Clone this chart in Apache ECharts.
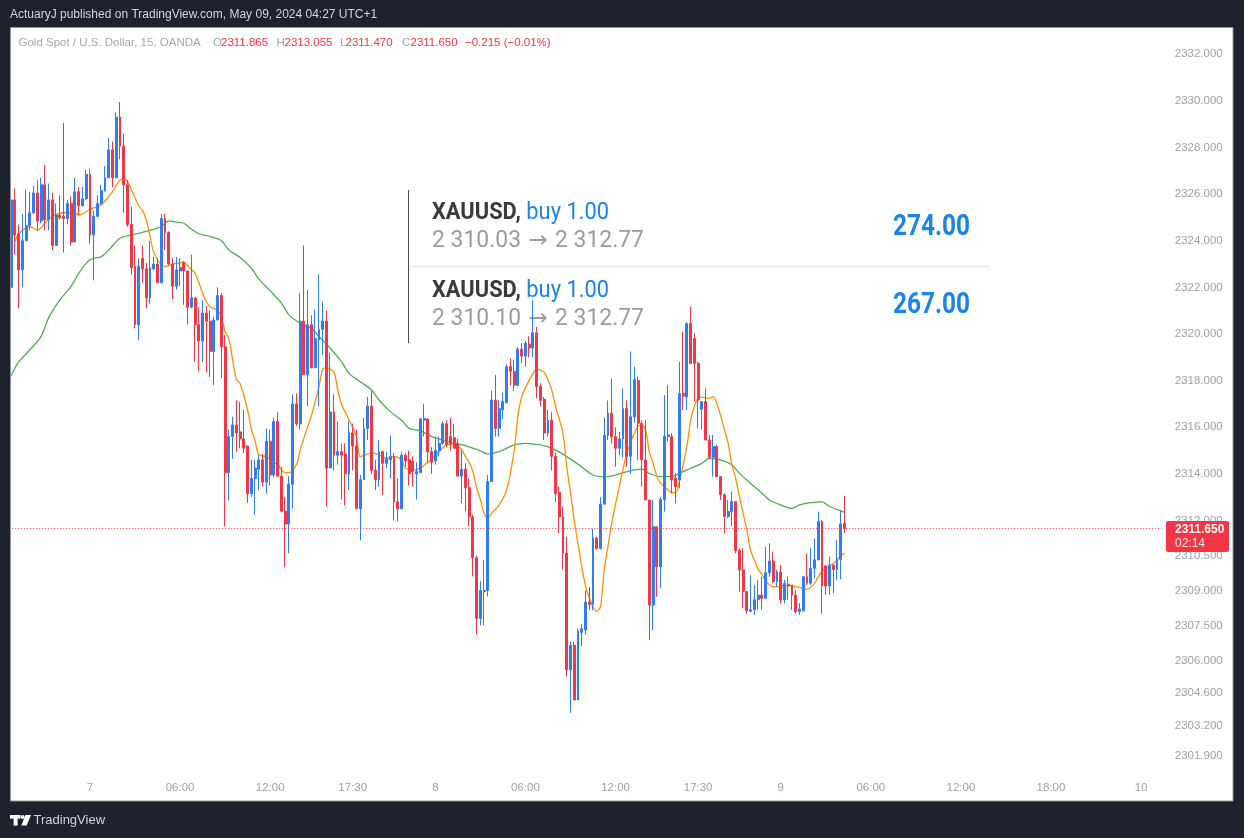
<!DOCTYPE html>
<html><head><meta charset="utf-8">
<script src="https://cdn.jsdelivr.net/npm/echarts@6/dist/echarts.min.js"></script>
<style>html,body{margin:0;padding:0;background:#1e222d;}#c{width:1244px;height:838px;}</style>
</head><body><div id="c"></div>
<script>
// ---- DATA ----
// candles: [open, close, low, high], 15-minute bars
const candles = [
[2322.0,2325.75,2320.7,2325.8],[2325.75,2324.25,2323.4,2326.25],[2324.3,2322.75,2321.1,2324.7],[2322.75,2324.0,2322.0,2325.15],
[2324.0,2324.65,2324.0,2326.2],[2324.65,2325.2,2324.45,2326.1],[2325.2,2326.05,2325.15,2326.35],[2326.05,2324.85,2324.45,2326.6],
[2324.85,2326.4,2324.75,2326.7],[2326.4,2324.9,2324.45,2327.25],[2324.9,2325.75,2324.45,2326.45],[2325.75,2323.8,2323.6,2326.05],
[2323.8,2325.1,2323.8,2325.6],[2325.1,2325.0,2324.9,2325.95],[2325.05,2324.95,2323.5,2329.05],[2324.95,2325.6,2324.7,2325.75],
[2325.6,2323.95,2323.8,2325.9],[2323.95,2326.1,2323.95,2326.7],[2326.1,2325.5,2325.1,2326.3],[2325.5,2325.8,2325.5,2326.3],
[2325.8,2326.85,2325.75,2327.05],[2326.85,2324.25,2323.85,2327.1],[2324.25,2325.05,2322.3,2325.3],[2325.05,2325.6,2325.0,2325.95],
[2325.6,2326.15,2325.55,2326.4],[2326.15,2326.7,2326.1,2327.2],[2326.7,2327.9,2326.7,2328.4],[2327.9,2326.7,2326.3,2328.25],
[2326.7,2329.3,2326.7,2329.5],[2329.3,2328.05,2327.5,2329.95],[2328.05,2326.4,2325.2,2328.6],[2326.4,2324.7,2324.6,2326.6],
[2324.7,2322.85,2322.55,2325.45],[2322.9,2320.4,2320.25,2323.8],[2320.4,2322.9,2319.75,2323.25],[2323.25,2322.8,2322.2,2323.8],
[2322.8,2321.55,2321.1,2323.05],[2321.55,2322.85,2321.3,2324.0],[2322.8,2323.0,2322.75,2323.3],[2323.0,2322.2,2322.2,2323.25],
[2322.2,2324.95,2322.2,2325.15],[2324.95,2324.35,2323.6,2325.15],[2324.35,2323.0,2322.95,2324.4],[2323.0,2322.05,2321.5,2323.25],
[2322.05,2322.75,2321.9,2323.3],[2322.7,2322.85,2322.05,2323.25],[2323.05,2322.7,2321.25,2323.1],[2322.7,2321.15,2320.4,2322.7],
[2321.15,2321.55,2321.1,2323.4],[2321.55,2320.4,2318.8,2321.55],[2320.4,2319.7,2318.4,2321.15],[2319.7,2320.9,2318.8,2321.45],
[2320.9,2320.55,2318.35,2321.2],[2320.55,2319.25,2318.15,2321.0],[2319.25,2320.6,2317.8,2320.75],[2320.6,2321.65,2320.6,2322.0],
[2321.65,2319.45,2318.1,2321.75],[2319.45,2314.05,2311.75,2319.95],[2314.05,2315.6,2312.85,2315.9],[2315.6,2316.1,2314.65,2316.45],
[2316.1,2315.75,2314.95,2317.15],[2315.8,2315.5,2315.1,2317.1],[2315.5,2315.1,2314.9,2316.75],[2315.2,2313.15,2312.75,2315.2],
[2313.15,2313.8,2313.0,2314.6],[2313.8,2314.25,2312.25,2314.6],[2314.2,2314.6,2313.3,2314.8],[2314.6,2313.65,2313.45,2314.85],
[2313.65,2315.4,2313.15,2315.95],[2315.4,2313.95,2313.5,2315.9],[2313.95,2316.25,2313.85,2316.4],[2316.25,2313.9,2313.9,2316.65],
[2313.9,2312.4,2312.35,2314.3],[2312.4,2311.85,2310.0,2313.0],[2311.85,2313.55,2310.6,2313.9],[2313.55,2317.0,2312.5,2317.4],
[2317.0,2316.15,2316.05,2317.45],[2316.15,2320.55,2315.9,2321.75],[2320.55,2318.25,2318.25,2323.8],[2318.25,2320.4,2316.9,2321.9],
[2320.4,2318.55,2318.55,2320.8],[2318.55,2319.8,2318.55,2321.05],[2319.75,2320.2,2316.9,2322.55],[2320.2,2320.55,2319.1,2321.4],
[2320.55,2314.25,2312.6,2321.0],[2314.25,2316.65,2314.25,2319.2],[2316.65,2314.8,2314.15,2317.4],[2314.8,2314.95,2314.4,2316.25],
[2314.95,2314.8,2312.9,2315.3],[2314.85,2314.0,2312.65,2315.3],[2314.0,2315.75,2313.3,2316.25],[2315.75,2315.2,2314.15,2316.15],
[2315.2,2312.5,2312.5,2315.9],[2312.5,2313.75,2311.15,2313.95],[2313.75,2315.95,2313.75,2316.4],[2315.95,2316.9,2315.45,2317.3],
[2316.9,2314.15,2314.0,2317.55],[2314.15,2313.75,2313.3,2314.6],[2313.75,2314.95,2313.45,2315.45],[2314.95,2314.45,2313.1,2315.0],
[2314.45,2314.65,2314.25,2314.95],[2314.6,2314.75,2313.8,2315.65],[2314.75,2312.8,2312.0,2314.9],[2312.8,2312.5,2311.95,2313.8],
[2312.5,2314.8,2312.5,2314.95],[2314.8,2314.55,2314.3,2314.9],[2314.6,2314.0,2313.5,2315.0],[2314.55,2314.1,2313.45,2314.75],
[2314.0,2314.1,2312.9,2314.5],[2314.05,2316.35,2314.05,2316.4],[2316.3,2316.38,2315.6,2317.0],[2316.35,2314.95,2314.45,2316.4],
[2314.95,2314.5,2314.0,2315.15],[2314.55,2315.0,2314.4,2315.6],[2315.0,2315.3,2314.75,2315.6],[2315.3,2316.15,2315.25,2316.25],
[2316.15,2315.25,2315.15,2316.3],[2315.6,2315.3,2315.0,2316.4],[2315.55,2315.1,2315.1,2316.15],[2315.3,2313.9,2313.9,2315.5],
[2313.9,2314.2,2312.75,2315.0],[2314.2,2313.4,2312.4,2314.45],[2313.4,2312.15,2311.75,2313.8],[2312.15,2310.4,2309.6,2312.25],
[2310.4,2307.8,2307.1,2310.5],[2307.8,2309.0,2307.5,2309.4],[2308.95,2309.0,2307.5,2310.3],[2309.0,2313.67,2308.74,2313.95],
[2313.67,2317.17,2313.67,2317.57],[2317.17,2315.95,2315.6,2318.24],[2315.95,2316.8,2315.6,2317.17],[2316.75,2317.1,2316.35,2317.5],
[2317.05,2318.6,2317.05,2318.7],[2318.6,2318.4,2317.8,2318.95],[2318.4,2317.8,2317.55,2318.9],[2317.8,2319.35,2317.75,2319.45],
[2319.35,2319.05,2318.75,2319.6],[2319.05,2319.6,2318.6,2319.7],[2319.55,2319.4,2319.0,2319.9],[2319.4,2320.05,2319.0,2321.45],
[2320.05,2317.75,2317.25,2320.3],[2317.75,2317.15,2316.9,2317.9],[2317.2,2315.75,2315.45,2317.3],[2315.75,2316.3,2315.6,2316.75],
[2316.3,2314.75,2314.15,2316.65],[2314.75,2313.15,2312.8,2314.9],[2313.2,2312.15,2311.45,2313.45],[2312.15,2310.6,2309.9,2312.6],
[2310.6,2305.6,2305.3,2311.3],[2305.6,2306.65,2303.75,2306.8],[2306.65,2304.3,2304.3,2306.8],[2304.3,2307.25,2304.3,2307.35],
[2307.2,2307.35,2306.6,2307.55],[2307.3,2308.5,2307.1,2309.0],[2308.5,2308.4,2308.15,2309.15],[2308.4,2311.25,2308.15,2311.65],
[2311.25,2310.8,2310.75,2311.3],[2310.8,2312.7,2310.75,2313.0],[2312.7,2315.65,2312.7,2316.4],[2315.65,2316.6,2315.45,2317.15],
[2316.6,2315.6,2315.3,2318.1],[2315.6,2315.1,2314.3,2316.0],[2315.1,2315.5,2314.8,2315.8],[2315.5,2316.8,2314.7,2317.65],
[2316.8,2314.75,2314.3,2317.15],[2314.75,2316.45,2314.0,2319.25],[2316.45,2318.05,2316.2,2318.6],[2318.0,2316.17,2314.6,2318.17],
[2316.17,2314.6,2313.45,2316.3],[2314.6,2312.88,2312.88,2316.3],[2312.88,2308.37,2306.87,2312.88],[2308.37,2311.73,2307.3,2312.88],
[2311.73,2310.02,2308.73,2311.73],[2310.02,2312.9,2309.09,2313.02],[2312.9,2315.62,2312.38,2317.38],[2315.6,2315.67,2315.38,2317.81],
[2315.6,2313.74,2313.17,2315.74],[2313.81,2313.45,2312.74,2314.02],[2313.74,2317.45,2313.38,2318.81],[2317.45,2317.34,2316.74,2320.1],
[2317.3,2320.45,2316.74,2320.5],[2320.45,2318.74,2318.74,2321.17],[2319.8,2318.74,2317.1,2320.03],[2318.74,2317.17,2315.95,2318.81],
[2316.77,2317.1,2315.9,2317.1],[2317.1,2315.45,2315.45,2317.67],[2315.45,2314.71,2314.67,2315.67],[2314.71,2315.17,2313.88,2315.67],
[2315.17,2313.88,2313.88,2315.24],[2313.88,2313.1,2312.88,2313.88],[2313.1,2312.17,2311.45,2313.17],[2312.17,2312.38,2312.1,2312.88],
[2312.38,2312.81,2311.74,2313.24],[2312.81,2310.71,2310.59,2312.81],[2310.71,2309.88,2308.95,2310.81],[2309.88,2308.95,2308.23,2310.81],
[2308.95,2308.13,2308.0,2308.95],[2308.1,2308.17,2308.1,2309.66],[2308.17,2308.6,2307.95,2309.23],[2308.6,2308.8,2308.17,2309.45],
[2308.8,2308.66,2308.17,2309.59],[2308.66,2309.76,2308.66,2310.88],[2309.76,2310.26,2309.59,2311.02],[2310.26,2309.38,2309.31,2310.66],
[2309.38,2309.78,2309.16,2309.88],[2309.78,2308.59,2308.45,2310.09],[2308.59,2309.3,2308.45,2309.45],[2309.26,2309.19,2308.59,2309.59],
[2309.23,2308.8,2308.16,2309.23],[2308.8,2308.09,2308.0,2309.02],[2308.1,2308.2,2307.95,2308.45],[2308.13,2309.59,2308.09,2309.59],
[2309.59,2309.31,2309.23,2310.59],[2309.31,2309.95,2309.23,2310.81],[2309.95,2310.31,2309.52,2311.23],[2310.31,2311.95,2310.31,2312.38],
[2311.95,2309.19,2308.0,2312.02],[2310.05,2309.19,2308.8,2310.09],[2309.19,2310.09,2308.8,2310.45],[2310.09,2309.9,2308.88,2310.09],
[2309.9,2310.33,2309.45,2311.16],[2310.33,2311.85,2309.48,2312.42],[2311.865,2311.65,2311.47,2313.055]
];
// fast moving average (orange): [bar index, value]
const maFast = [
[1,2323.95],[2,2324.3],[5,2324.6],[7,2324.45],[9,2324.75],[11,2325.05],[14,2325.2],[17,2325.18],[18,2325.1],[21,2325.35],[24,2325.55],[26,2325.9],[27,2326.1],[29,2326.6],[30,2326.64],[31,2326.55],[32,2326.2],[34,2325.5],[35,2325.3],[36,2324.9],[37,2324.2],[38,2323.5],[40,2322.95],[41,2322.9],[43,2323.0],[45,2323.05],[46,2323.1],[47,2322.92],[49,2322.6],[50,2322.2],[51,2321.75],[52,2321.4],[53,2321.17],[55,2321.0],[56,2320.75],[57,2320.1],[58,2319.8],[59,2318.9],[60,2318.05],[61,2317.88],[63,2316.74],[64,2315.9],[65,2315.4],[66,2314.81],[68,2314.74],[69,2314.6],[71,2314.38],[73,2314.05],[74,2314.05],[76,2314.4],[77,2315.02],[79,2316.03],[80,2316.5],[82,2317.74],[83,2318.5],[84,2318.55],[86,2318.35],[87,2317.6],[88,2317.0],[90,2316.31],[92,2315.6],[93,2314.74],[95,2314.85],[96,2314.91],[98,2314.81],[100,2314.67],[102,2314.74],[104,2314.6],[105,2314.25],[107,2314.17],[109,2314.25],[111,2314.5],[113,2314.8],[114,2314.95],[116,2315.25],[118,2315.28],[120,2315.05],[121,2314.75],[122,2314.5],[123,2314.1],[124,2313.4],[125,2312.9],[126,2312.3],[127,2312.1],[128,2312.31],[130,2312.67],[132,2313.31],[134,2315.0],[135,2316.5],[136,2317.3],[137,2317.7],[139,2318.3],[140,2318.49],[142,2318.35],[144,2317.6],[145,2316.9],[147,2315.74],[148,2314.3],[149,2313.2],[150,2312.0],[151,2311.0],[153,2309.2],[155,2308.3],[156,2308.1],[157,2308.3],[158,2309.9],[159,2310.9],[160,2311.9],[162,2313.45],[164,2314.88],[166,2315.74],[167,2316.05],[168,2316.1],[169,2315.88],[170,2314.95],[171,2314.45],[172,2313.9],[173,2313.6],[174,2313.45],[175,2313.3],[176,2313.2],[177,2313.2],[178,2313.67],[180,2315.17],[181,2316.31],[182,2316.9],[183,2317.25],[184,2317.28],[186,2317.24],[187,2317.31],[188,2317.0],[189,2316.5],[190,2315.9],[191,2315.3],[192,2314.4],[193,2313.8],[194,2313.02],[195,2312.3],[196,2311.59],[197,2310.7],[198,2310.3],[199,2309.9],[200,2309.7],[201,2309.4],[203,2309.16],[205,2309.16],[206,2309.23],[208,2309.19],[210,2309.13],[212,2309.05],[214,2309.3],[215,2309.59],[216,2309.8],[218,2310.02],[219,2310.16],[220,2310.31],[221,2310.5],[222,2310.6]
];
// slow moving average (green): [bar index, value]
const maSlow = [
[0,2318.2],[2,2318.8],[5,2319.32],[8,2319.9],[10,2320.7],[13,2321.46],[16,2322.05],[18,2322.6],[21,2323.18],[24,2323.32],[26,2323.6],[29,2324.11],[32,2324.25],[34,2324.32],[37,2324.44],[40,2324.61],[42,2324.85],[44,2324.8],[46,2324.75],[48,2324.5],[50,2324.3],[53,2324.18],[56,2324.0],[58,2323.6],[61,2323.28],[64,2322.82],[66,2322.35],[69,2321.85],[72,2321.32],[74,2320.82],[77,2320.46],[80,2320.24],[82,2319.89],[85,2319.39],[88,2318.81],[90,2318.31],[93,2317.95],[96,2317.6],[98,2317.17],[101,2316.67],[104,2316.3],[106,2315.95],[109,2315.85],[112,2315.6],[114,2315.5],[117,2315.35],[120,2315.25],[123,2315.1],[125,2314.98],[127,2314.85],[130,2314.95],[134,2315.24],[137,2315.31],[141,2315.24],[144,2315.1],[148,2314.74],[152,2314.3],[155,2313.95],[158,2313.88],[161,2313.95],[164,2314.1],[168,2314.2],[170,2314.02],[173,2313.88],[176,2313.88],[178,2314.02],[181,2314.24],[184,2314.45],[186,2314.67],[189,2314.6],[192,2314.38],[194,2314.02],[197,2313.59],[200,2313.17],[202,2312.88],[205,2312.67],[208,2312.52],[210,2312.67],[213,2312.77],[216,2312.8],[218,2312.6],[221,2312.41],[222,2312.35]
];
const xTickIndex = [21,45,69,91,113,137,161,183,205,229,253,277,301];
const xTickText  = ['7','06:00','12:00','17:30','8','06:00','12:00','17:30','9','06:00','12:00','18:00','10'];
const yTickValues = [2332,2330,2328,2326,2324,2322,2320,2318,2316,2314,2312,2310.5,2309,2307.5,2306,2304.6,2303.2,2301.9];
const barCount = 307;          // bars that fit across the time axis (incl. future space)
const lastPrice = 2311.65;
const lastPriceText = '2311.650';
const countdownText = '02:14';
const headerText = 'ActuaryJ published on TradingView.com, May 09, 2024 04:27 UTC+1';
const legendTitle = 'Gold Spot / U.S. Dollar, 15, OANDA';
const legendOHLC = [['O','2311.865'],['H','2313.055'],['L','2311.470'],['C','2311.650']];
const legendChange = '\u22120.215 (\u22120.01%)';
const trades = [
  {symbol:'XAUUSD,', side:' buy 1.00', entry:'2 310.03', exit:'2 312.77', profit:'274.00'},
  {symbol:'XAUUSD,', side:' buy 1.00', entry:'2 310.10', exit:'2 312.77', profit:'267.00'}
];

// ---- CHART ----
const categories = Array.from({length: barCount}, (_, i) => 'b' + i);
const tickMap = {};
xTickIndex.forEach((k, j) => { tickMap[k] = xTickText[j]; });

const UP = '#2f7cf6', DOWN = '#f23645', DARK = '#1e222d';
const mctx = document.createElement('canvas').getContext('2d');
function tw(t, f) { mctx.font = f; return mctx.measureText(t).width; }

const graphics = [];
// trade overlay (beneath candles)
graphics.push({type:'line', z:1, silent:true, shape:{x1:408.5,y1:190,x2:408.5,y2:343}, style:{stroke:'#4a4a4a', lineWidth:1}});
graphics.push({type:'line', z:1, silent:true, shape:{x1:410,y1:266.5,x2:990,y2:266.5}, style:{stroke:'#e3e3e3', lineWidth:1.5}});
const fB = 'bold 23px Roboto', fR = '23px Roboto', fA = '23px "DejaVu Sans"', fN = 'bold 29px Roboto';
trades.forEach((t, k) => {
  const dy = k * 78;
  const w1 = tw(t.symbol, fB) + tw(t.side, fR);
  graphics.push({type:'text', z:1, silent:true, x:432, y:213 + dy, scaleX: 177 / w1,
    style:{text:'{a|' + t.symbol + '}{b|' + t.side + '}', textVerticalAlign:'middle',
      rich:{a:{font:fB, fill:'#3a3a3a'}, b:{font:fR, fill:'#1a84ea'}}}});
  const arrow = ' \u2192 ';
  const w2 = tw(t.entry, fR) + tw(arrow, fA) + tw(t.exit, fR);
  graphics.push({type:'text', z:1, silent:true, x:432, y:241 + dy, scaleX: 212 / w2,
    style:{text:'{p|' + t.entry + '}{q|' + arrow + '}{p|' + t.exit + '}', textVerticalAlign:'middle',
      rich:{p:{font:fR, fill:'#9c9c9c'}, q:{font:fA, fill:'#9c9c9c'}}}});
  const w3 = tw(t.profit, fN);
  graphics.push({type:'text', z:1, silent:true, x:970, y:228 + dy, scaleX: 77 / w3,
    style:{text:t.profit, font:fN, fill:'#1a84ea', textAlign:'right', textVerticalAlign:'middle'}});
});
// dark frame
graphics.push({type:'rect', z:100, silent:true, shape:{x:0,y:0,width:1244,height:27.5}, style:{fill:DARK}});
graphics.push({type:'rect', z:100, silent:true, shape:{x:0,y:801,width:1244,height:37}, style:{fill:DARK}});
graphics.push({type:'rect', z:100, silent:true, shape:{x:0,y:0,width:10.5,height:838}, style:{fill:DARK}});
graphics.push({type:'rect', z:100, silent:true, shape:{x:1233,y:0,width:11,height:838}, style:{fill:DARK}});
graphics.push({type:'rect', z:101, silent:true, shape:{x:10.5,y:27.5,width:1222.5,height:773.5}, style:{fill:null, stroke:'#8f929b', lineWidth:1}});
// header + legend
graphics.push({type:'text', z:102, silent:true, style:{x:10, y:15, text:headerText, font:'12px "Liberation Sans"', fill:'#d1d4dc', textVerticalAlign:'middle'}});
const lf = '11.5px "Liberation Sans"';
const legendParts = [{t:legendTitle, c:'#a3a6af', x:18.5}];
const lx = [[213,221],[276.5,284.5],[340,345.5],[402,410.5]];
legendOHLC.forEach((p, j) => { legendParts.push({t:p[0], c:'#a3a6af', x:lx[j][0]}); legendParts.push({t:p[1], c:DOWN, x:lx[j][1]}); });
legendParts.push({t:legendChange, c:DOWN, x:465});
legendParts.forEach(p => graphics.push({type:'text', z:102, silent:true, style:{x:p.x, y:42.5, text:p.t, font:lf, fill:p.c, textVerticalAlign:'middle'}}));
// last price tag
graphics.push({type:'rect', z:102, silent:true, shape:{x:1166,y:521,width:63,height:31,r:2}, style:{fill:DOWN}});
graphics.push({type:'text', z:103, silent:true, style:{x:1175, y:530, text:lastPriceText, font:'bold 12px "Liberation Sans"', fill:'#ffffff', textVerticalAlign:'middle'}});
graphics.push({type:'text', z:103, silent:true, style:{x:1175, y:544, text:countdownText, font:'12px "Liberation Sans"', fill:'#ffe3e5', textVerticalAlign:'middle'}});
// footer logo
graphics.push({type:'rect', z:102, silent:true, shape:{x:10,y:815,width:10.5,height:3.6}, style:{fill:'#ffffff'}});
graphics.push({type:'rect', z:102, silent:true, shape:{x:13.6,y:815,width:4,height:10.6}, style:{fill:'#ffffff'}});
graphics.push({type:'circle', z:102, silent:true, shape:{cx:22.6,cy:817,r:1.9}, style:{fill:'#ffffff'}});
graphics.push({type:'polygon', z:102, silent:true, shape:{points:[[25.4,815],[31,815],[26.6,825.6],[21.4,825.6]]}, style:{fill:'#ffffff'}});
graphics.push({type:'text', z:102, silent:true, style:{x:33.5, y:820.5, text:'TradingView', font:'13px "Liberation Sans"', fill:'#d1d4dc', textVerticalAlign:'middle'}});

const chart = echarts.init(document.getElementById('c'), null, {renderer:'canvas'});
chart.setOption({
  animation: false,
  backgroundColor: '#ffffff',
  grid: {left: 9.25, right: 82.25, top: 28.6, bottom: 61.1, containLabel: false},
  xAxis: {
    type: 'category', data: categories, boundaryGap: true,
    axisLine: {show: false}, axisTick: {show: false}, splitLine: {show: false},
    axisLabel: {interval: 0, margin: 5, color: '#9ea1aa', fontSize: 11.5, fontFamily: 'Liberation Sans',
      formatter: (v, i) => tickMap[i] || ''}
  },
  yAxis: {
    type: 'value', position: 'right', min: 2301.0, max: 2333.1, scale: true,
    axisLine: {show: false}, axisTick: {show: false}, splitLine: {show: false},
    axisLabel: {customValues: yTickValues, margin: 13, color: '#9ea1aa', fontSize: 11.5, fontFamily: 'Liberation Sans',
      formatter: v => Number(v).toFixed(3)}
  },
  series: [
    {type: 'line', data: maSlow, smooth: 0.3, symbol: 'none', z: 2,
      lineStyle: {color: '#4caf50', width: 1.3}},
    {type: 'line', data: maFast, smooth: 0.3, symbol: 'none', z: 2,
      lineStyle: {color: '#ff9100', width: 1.3}},
    {type: 'candlestick', z: 3, barWidth: 2.4,
      data: candles.map(([o, c, l, h]) => [o, c, Math.min(l, o, c), Math.max(h, o, c)]),
      itemStyle: {color: UP, color0: DOWN, borderColor: UP, borderColor0: DOWN, borderWidth: 1},
      markLine: {silent: true, symbol: 'none', label: {show: false},
        lineStyle: {color: DOWN, type: [1, 2], width: 1}, data: [{yAxis: lastPrice}]}}
  ],
  graphic: {elements: graphics}
});
</script>
</body></html>
